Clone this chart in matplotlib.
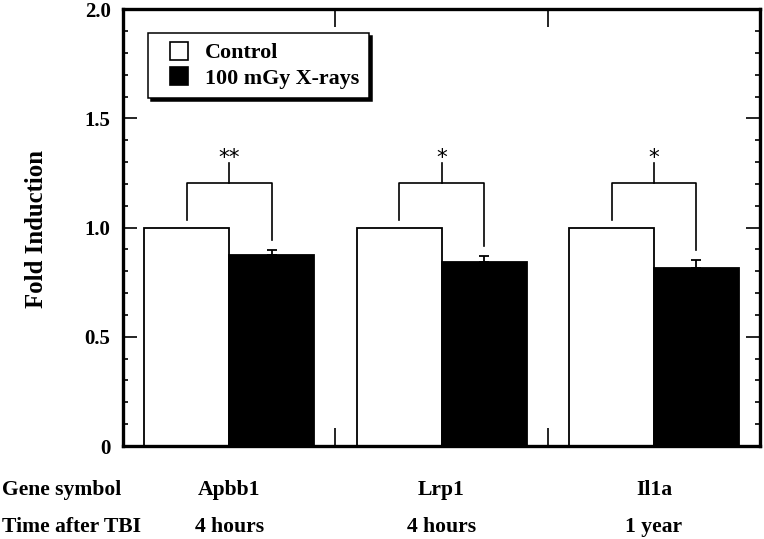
import matplotlib
matplotlib.use("Agg")
import matplotlib.pyplot as plt
import numpy as np
from matplotlib.lines import Line2D
from matplotlib.ticker import MultipleLocator

# data
genes = ["Apbb1", "Lrp1", "Il1a"]
times = ["4 hours", "4 hours", "1 year"]
control = [1.0, 1.0, 1.0]
xray = [0.875, 0.843, 0.815]
xray_err = [0.022, 0.028, 0.036]
stars = ["**", "*", "*"]
yticks = [0, 0.5, 1.0, 1.5, 2.0]
ytick_labels = ["0", "0.5", "1.0", "1.5", "2.0"]

serif = "Liberation Serif"
plt.rcParams["font.family"] = serif
plt.rcParams["font.weight"] = "bold"

fig = plt.figure(figsize=(7.64, 5.39), dpi=100)
ax = fig.add_axes([0.161, 0.1725, 0.834, 0.8105])

x = np.arange(len(genes))
w = 0.4
ax.bar(x - w / 2, control, w, color="white", edgecolor="black", linewidth=1.3, zorder=2)
ax.bar(x + w / 2, xray, w, color="black", edgecolor="black", linewidth=1.3, zorder=2)
ax.errorbar(x + w / 2, xray, yerr=[np.zeros(len(xray)), xray_err], fmt="none",
            ecolor="black", elinewidth=1.3, capsize=3.5, capthick=1.3, zorder=3)

# significance brackets
top = 1.205
for i in range(len(genes)):
    xl, xr = x[i] - w / 2, x[i] + w / 2
    ax.plot([xl, xl, xr, xr], [1.035, top, top, xray[i] + xray_err[i] + 0.045],
            color="black", lw=1.2, zorder=3)
    ax.plot([x[i], x[i]], [top, 1.295], color="black", lw=1.2, zorder=3)
    ax.text(x[i], 1.29, stars[i], ha="center", va="baseline", fontsize=15.5,
            family="DejaVu Sans", fontweight="normal")

ax.set_xlim(-0.5, 2.5)
ax.set_ylim(0, 2.0)
ax.set_yticks(yticks)
ax.set_yticklabels(ytick_labels)
ax.yaxis.set_minor_locator(MultipleLocator(0.1))
ax.set_xticks([0.5, 1.5])
ax.set_xticklabels([])
ax.tick_params(axis="y", which="major", direction="in", length=10, width=1.2,
               right=True, labelsize=15, pad=9)
ax.tick_params(axis="y", which="minor", direction="in", length=3.5, width=1.2, right=True)
ax.tick_params(axis="x", which="major", direction="in", length=13, width=1.2, top=True)
for s in ax.spines.values():
    s.set_linewidth(2.4)

fig.text(37 / 764, 1 - 229.5 / 539, "Fold Induction", rotation=90, ha="center",
         va="center", fontsize=17.8)

# category rows under the axis
fig.text(2 / 764, 1 - 495 / 539, "Gene symbol", ha="left", va="baseline", fontsize=15.6)
fig.text(2 / 764, 1 - 532 / 539, "Time after TBI", ha="left", va="baseline", fontsize=15.6)
for i in range(len(genes)):
    ax.text(x[i], -0.112, genes[i], transform=ax.get_xaxis_transform(), ha="center",
            va="baseline", fontsize=15.6)
    ax.text(x[i], -0.197, times[i], transform=ax.get_xaxis_transform(), ha="center",
            va="baseline", fontsize=15.6)

handles = [
    Line2D([], [], ls="none", marker="s", markersize=13.5, markerfacecolor="white",
           markeredgecolor="black", markeredgewidth=1.2),
    Line2D([], [], ls="none", marker="s", markersize=13.5, markerfacecolor="black",
           markeredgecolor="black", markeredgewidth=1.2),
]
leg = ax.legend(handles, ["Control", "100 mGy X-rays"], loc="upper left",
                bbox_to_anchor=(0.039, 0.945), borderaxespad=0, fontsize=15.8,
                frameon=True, fancybox=False, edgecolor="black", framealpha=1,
                shadow={"color": "black", "alpha": 1}, handlelength=1.95,
                handletextpad=0.2, borderpad=0.45, labelspacing=0.22)
leg.get_frame().set_linewidth(1.1)

fig.savefig("out.png", dpi=100)
